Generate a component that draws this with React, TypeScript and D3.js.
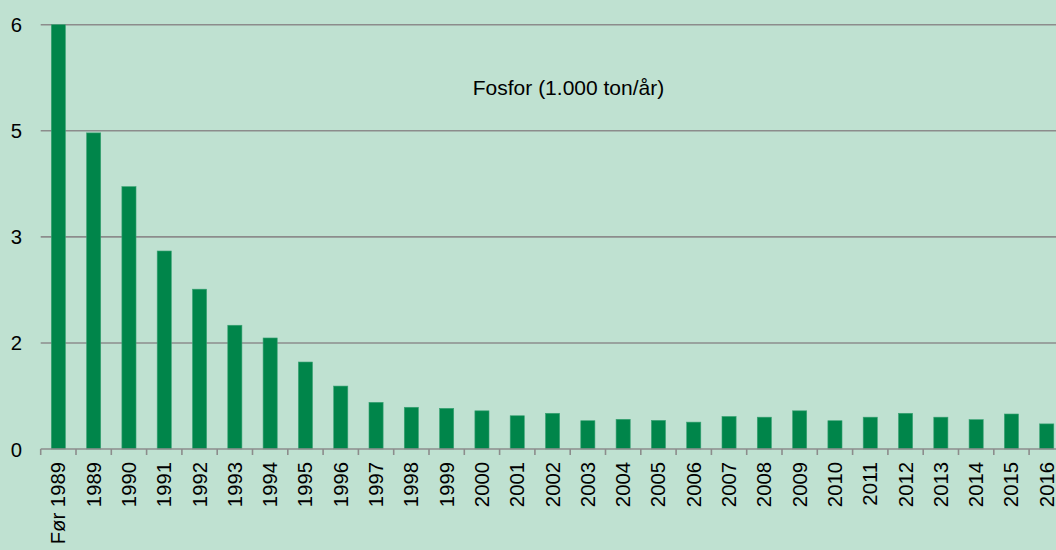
import React from "react";
import * as d3 from "d3";

const categories = ["Før 1989","1989","1990","1991","1992","1993","1994","1995","1996","1997","1998","1999","2000","2001","2002","2003","2004","2005","2006","2007","2008","2009","2010","2011","2012","2013","2014","2015","2016"];
const values = [6.0,4.47,3.71,2.8,2.26,1.75,1.57,1.23,0.89,0.66,0.59,0.575,0.54,0.47,0.505,0.4,0.42,0.405,0.38,0.46,0.45,0.54,0.4,0.45,0.505,0.45,0.415,0.495,0.355];
const yTicks = [0, 1.5, 3, 4.5, 6];
const yTickLabels = ["0", "2", "3", "5", "6"];
const title = "Fosfor (1.000 ton/år)";

const W = 1056, H = 550;
const left = 40.7, right = 40.7 + 35.3 * 29, top = 24.7, bottom = 449;

export default function App() {
  const x = d3.scaleBand<string>().domain(categories).range([left, right]).paddingInner(0.6).paddingOuter(0.3);
  const y = d3.scaleLinear().domain([0, 6]).range([bottom, top]);
  const step = x.step();
  const font = "'Liberation Sans', Arial, sans-serif";
  const fs = 20.3;
  return (
    <div style={{ position: "absolute", left: 0, top: 0, width: W, height: H }}>
      <svg width={W} height={H} style={{ display: "block" }}>
        <rect x={0} y={0} width={W} height={H} fill="#bfe1d1" />
        {yTicks.map((t, i) => (
          <g key={t}>
            {t > 0 && <line x1={left} x2={W} y1={y(t)} y2={y(t)} stroke="#8c8c8c" strokeWidth={1.6} />}
            <text x={22} y={y(t) + 7.5} textAnchor="end" fontFamily={font} fontSize={fs} fill="#000">
              {yTickLabels[i]}
            </text>
          </g>
        ))}
        {categories.map((c, i) => (
          <rect key={c} x={x(c)} y={y(values[i])} width={x.bandwidth()} height={bottom - y(values[i])} fill="#00854a" stroke="#3aa274" strokeWidth={0.6} />
        ))}
        <line x1={left} x2={W} y1={bottom} y2={bottom} stroke="#8c8c8c" strokeWidth={1.6} />
        {d3.range(categories.length + 1).map((i) => (
          <line key={i} x1={left + i * step} x2={left + i * step} y1={bottom} y2={bottom + 6} stroke="#8c8c8c" strokeWidth={1.6} />
        ))}
        {categories.map((c) => {
          const cx = (x(c) as number) + x.bandwidth() / 2;
          return (
            <text key={c} transform={`translate(${cx + 7},${462}) rotate(-90)`} textAnchor="end" fontFamily={font} fontSize={fs} fill="#000">
              {c}
            </text>
          );
        })}
        <text x={568.5} y={95} textAnchor="middle" fontFamily={font} fontSize={21} fill="#000">{title}</text>
      </svg>
    </div>
  );
}
